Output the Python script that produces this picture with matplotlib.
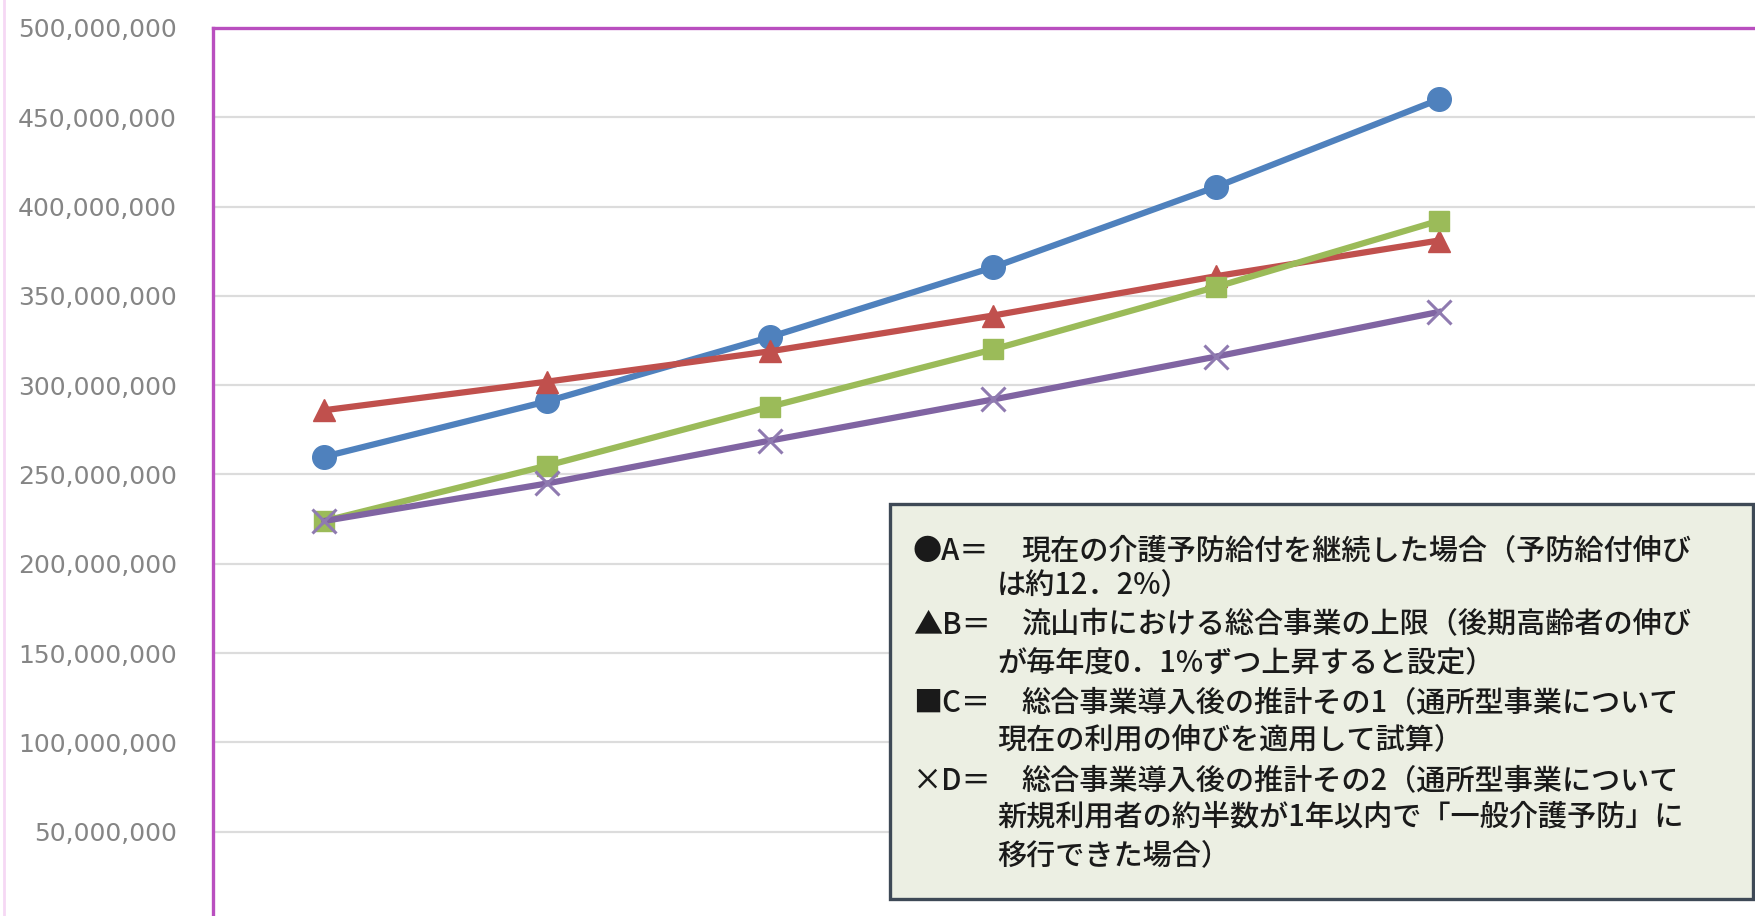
import numpy as np
import matplotlib
matplotlib.use("Agg")
import matplotlib.pyplot as plt
from matplotlib.lines import Line2D
from matplotlib.patches import Rectangle
from matplotlib.ticker import FuncFormatter, MultipleLocator

# values (yen); 7 category slots, last one empty
n_cat = 7
series_a = [260e6, 291e6, 327e6, 366e6, 411e6, 460e6]
series_b = [286e6, 302e6, 319e6, 339e6, 361e6, 381e6]
series_c = [224e6, 255e6, 288e6, 320e6, 355e6, 392e6]
series_d = [224e6, 245e6, 269e6, 292e6, 316e6, 341e6]

legend_lines = [
    ("●A＝", "現在の介護予防給付を継続した場合（予防給付伸び"),
    ("", "は約12．2%）"),
    ("▲B＝", "流山市における総合事業の上限（後期高齢者の伸び"),
    ("", "が毎年度0．1%ずつ上昇すると設定）"),
    ("■C＝", "総合事業導入後の推計その1（通所型事業について"),
    ("", "現在の利用の伸びを適用して試算）"),
    ("×D＝", "総合事業導入後の推計その2（通所型事業について"),
    ("", "新規利用者の約半数が1年以内で「一般介護予防」に"),
    ("", "移行できた場合）"),
]

W, H = 1756, 916
fig = plt.figure(figsize=(W / 100, H / 100), dpi=100)
fig.patch.set_facecolor("white")

# axes in pixel terms: left 213, top 28 (=500M), bottom 921 (=0), right 1773
ax = fig.add_axes([213 / W, (H - 921) / H, (1773 - 213) / W, (921 - 28) / H])

x = np.arange(len(series_a))
ax.plot(x, series_a, color="#4F81BD", lw=4.5, marker="o", ms=17, zorder=3)
ax.plot(x, series_b, color="#C0504D", lw=4.5, marker="^", ms=16, zorder=3)
ax.plot(x, series_c, color="#9BBB59", lw=4.5, marker="s", ms=15, zorder=3)
ax.plot(x, series_d, color="#8064A2", lw=4.5, marker="x", ms=17, mew=2.2,
        mec="#8F7AB0", zorder=3)

ax.set_xlim(-0.5, n_cat - 0.5)
ax.set_ylim(0, 500e6)
ax.yaxis.set_major_locator(MultipleLocator(50e6))
ax.yaxis.set_major_formatter(FuncFormatter(lambda v, p: "-" if v == 0 else f"{v:,.0f}"))
ax.grid(axis="y", color="#DCDCDC", lw=1.6)
ax.set_axisbelow(True)
ax.set_xticks([])
ax.tick_params(axis="y", length=0, pad=26, labelsize=18, labelcolor="#858585")

for s in ax.spines.values():
    s.set_color("#B94FBF")
    s.set_linewidth(2.4)

# faint chart border on the far left
fig.add_artist(Line2D([4 / W, 4 / W], [0, 1], color="#F6D8F4", lw=2))

# explanation box (text box over the plot)
bx0, by0, bx1, by1 = 890, 504, 1753, 899
fig.add_artist(Rectangle((bx0 / W, 1 - by1 / H), (bx1 - bx0) / W, (by1 - by0) / H,
                         transform=fig.transFigure, facecolor="#ECEFE3",
                         edgecolor="#3E4956", lw=2.4, zorder=5))

line_y = [551, 585, 625, 663, 703, 740, 781, 817, 856]
fam = ["Noto Sans CJK JP", "DejaVu Sans"]
for (head, body), yy in zip(legend_lines, line_y):
    if head:
        fig.text(913 / W, 1 - yy / H, head, family=fam, fontsize=21, weight="medium",
                 color="#1A1A1A", va="center", ha="left", zorder=6)
        fig.text(1021 / W, 1 - yy / H, body, family=fam, fontsize=21, weight="medium",
                 color="#1A1A1A", va="center", ha="left", zorder=6)
    else:
        fig.text(997 / W, 1 - yy / H, body, family=fam, fontsize=21, weight="medium",
                 color="#1A1A1A", va="center", ha="left", zorder=6)

fig.savefig("out.png", dpi=100)
